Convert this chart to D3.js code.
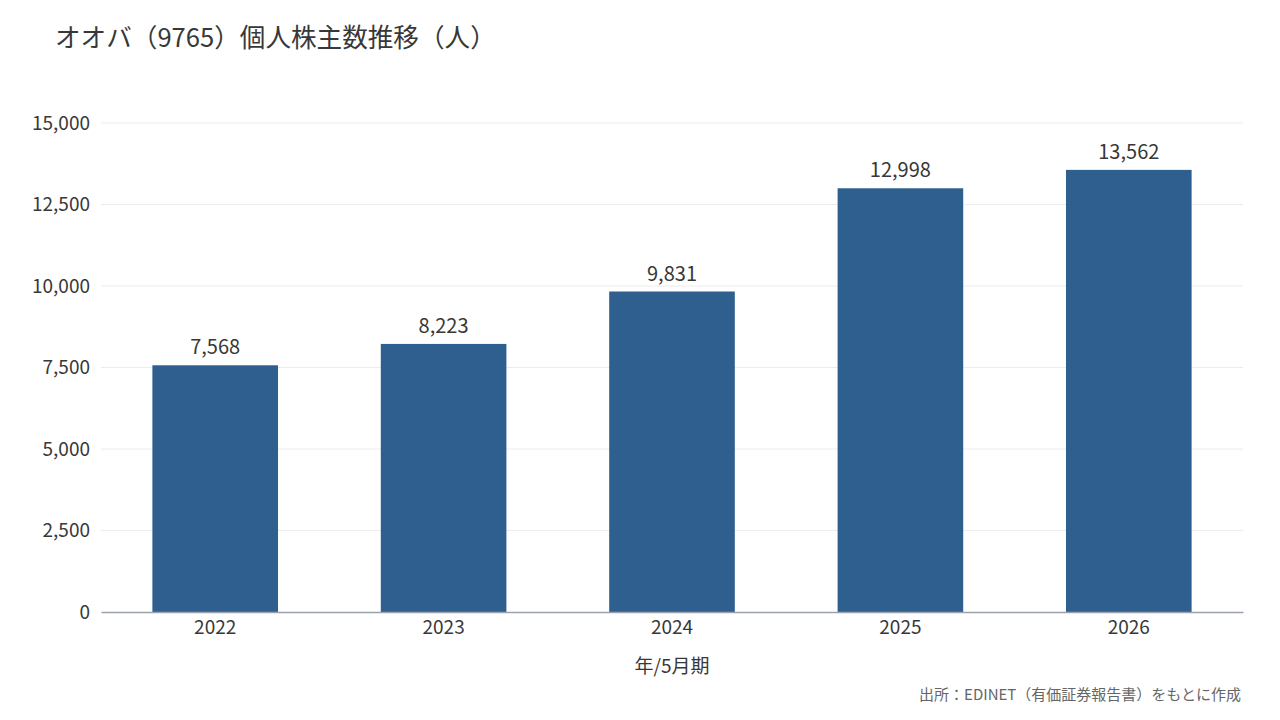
<!DOCTYPE html>
<html lang="ja">
<head>
  <meta charset="utf-8">
  <title>オオバ個人株主数推移</title>
  <script src="https://d3js.org/d3.v7.min.js"></script>
  <style>
	body {
	  margin: 0;
	  background: #fff;
	  font-family: "Noto Sans CJK JP", "Noto Sans", sans-serif;
	}
  </style>
</head>
<body>
  <script>
	// data
	var years = ["2022", "2023", "2024", "2025", "2026"];
	var holders = [7568, 8223, 9831, 12998, 13562];
	var yTicks = [0, 2500, 5000, 7500, 10000, 12500, 15000];

	var w = 1280, h = 720;
	var padL = 101, padR = 1243, padT = 123, padB = 612;

	var fmt = d3.format(",");

	var svg = d3.select("body").append("svg")
	  .attr("width", w)
	  .attr("height", h);

	var xScale = d3.scaleBand().domain(years).range([padL, padR])
	  .paddingInner(0.45).paddingOuter(0.225);
	var yScale = d3.scaleLinear().domain([0, 15000]).range([padB, padT]);

	// gridlines
	svg.append("g")
	  .selectAll("line")
	  .data(yTicks.filter(function (d) { return d > 0; }))
	  .enter().append("line")
	  .attr("x1", padL).attr("x2", padR)
	  .attr("y1", function (d) { return yScale(d); })
	  .attr("y2", function (d) { return yScale(d); })
	  .attr("stroke", "#ececec")
	  .attr("stroke-width", 1);

	// y axis labels
	var yAxis = d3.axisLeft(yScale).tickValues(yTicks).tickFormat(fmt).tickSize(0).tickPadding(11);
	var gy = svg.append("g").attr("transform", "translate(" + padL + ",0)").call(yAxis);
	gy.select(".domain").remove();
	gy.selectAll("text")
	  .attr("font-family", "'Noto Sans CJK JP', sans-serif")
	  .attr("font-size", 19)
	  .attr("fill", "#383838");

	// bars
	svg.selectAll("rect.bar")
	  .data(holders)
	  .enter().append("rect")
	  .attr("class", "bar")
	  .attr("x", function (d, i) { return xScale(years[i]); })
	  .attr("y", function (d) { return yScale(d); })
	  .attr("width", xScale.bandwidth())
	  .attr("height", function (d) { return padB - yScale(d); })
	  .attr("fill", "#2e5f8e");

	// value labels
	svg.selectAll("text.val")
	  .data(holders)
	  .enter().append("text")
	  .attr("class", "val")
	  .attr("x", function (d, i) { return xScale(years[i]) + xScale.bandwidth() / 2; })
	  .attr("y", function (d) { return yScale(d) - 11; })
	  .attr("text-anchor", "middle")
	  .attr("font-size", 20)
	  .attr("fill", "#383838")
	  .text(function (d) { return fmt(d); });

	// x axis
	var xAxis = d3.axisBottom(xScale).tickSize(0).tickPadding(9);
	var gx = svg.append("g").attr("transform", "translate(0," + padB + ")").call(xAxis);
	gx.select(".domain").attr("stroke", "#9aa3ad").attr("stroke-width", 1.5);
	gx.selectAll("text")
	  .attr("font-family", "'Noto Sans CJK JP', sans-serif")
	  .attr("font-size", 19)
	  .attr("fill", "#383838");

	// axis title
	svg.append("text")
	  .attr("x", (padL + padR) / 2)
	  .attr("y", 673)
	  .attr("text-anchor", "middle")
	  .attr("font-size", 19)
	  .attr("fill", "#383838")
	  .text("年/5月期");

	// title
	svg.append("text")
	  .attr("x", 55)
	  .attr("y", 47)
	  .attr("font-size", 25.6)
	  .attr("fill", "#383838")
	  .text("オオバ（9765）個人株主数推移（人）");

	// source
	svg.append("text")
	  .attr("x", 1241)
	  .attr("y", 700)
	  .attr("text-anchor", "end")
	  .attr("font-size", 15)
	  .attr("fill", "#666")
	  .text("出所：EDINET（有価証券報告書）をもとに作成");
  </script>
</body>
</html>
